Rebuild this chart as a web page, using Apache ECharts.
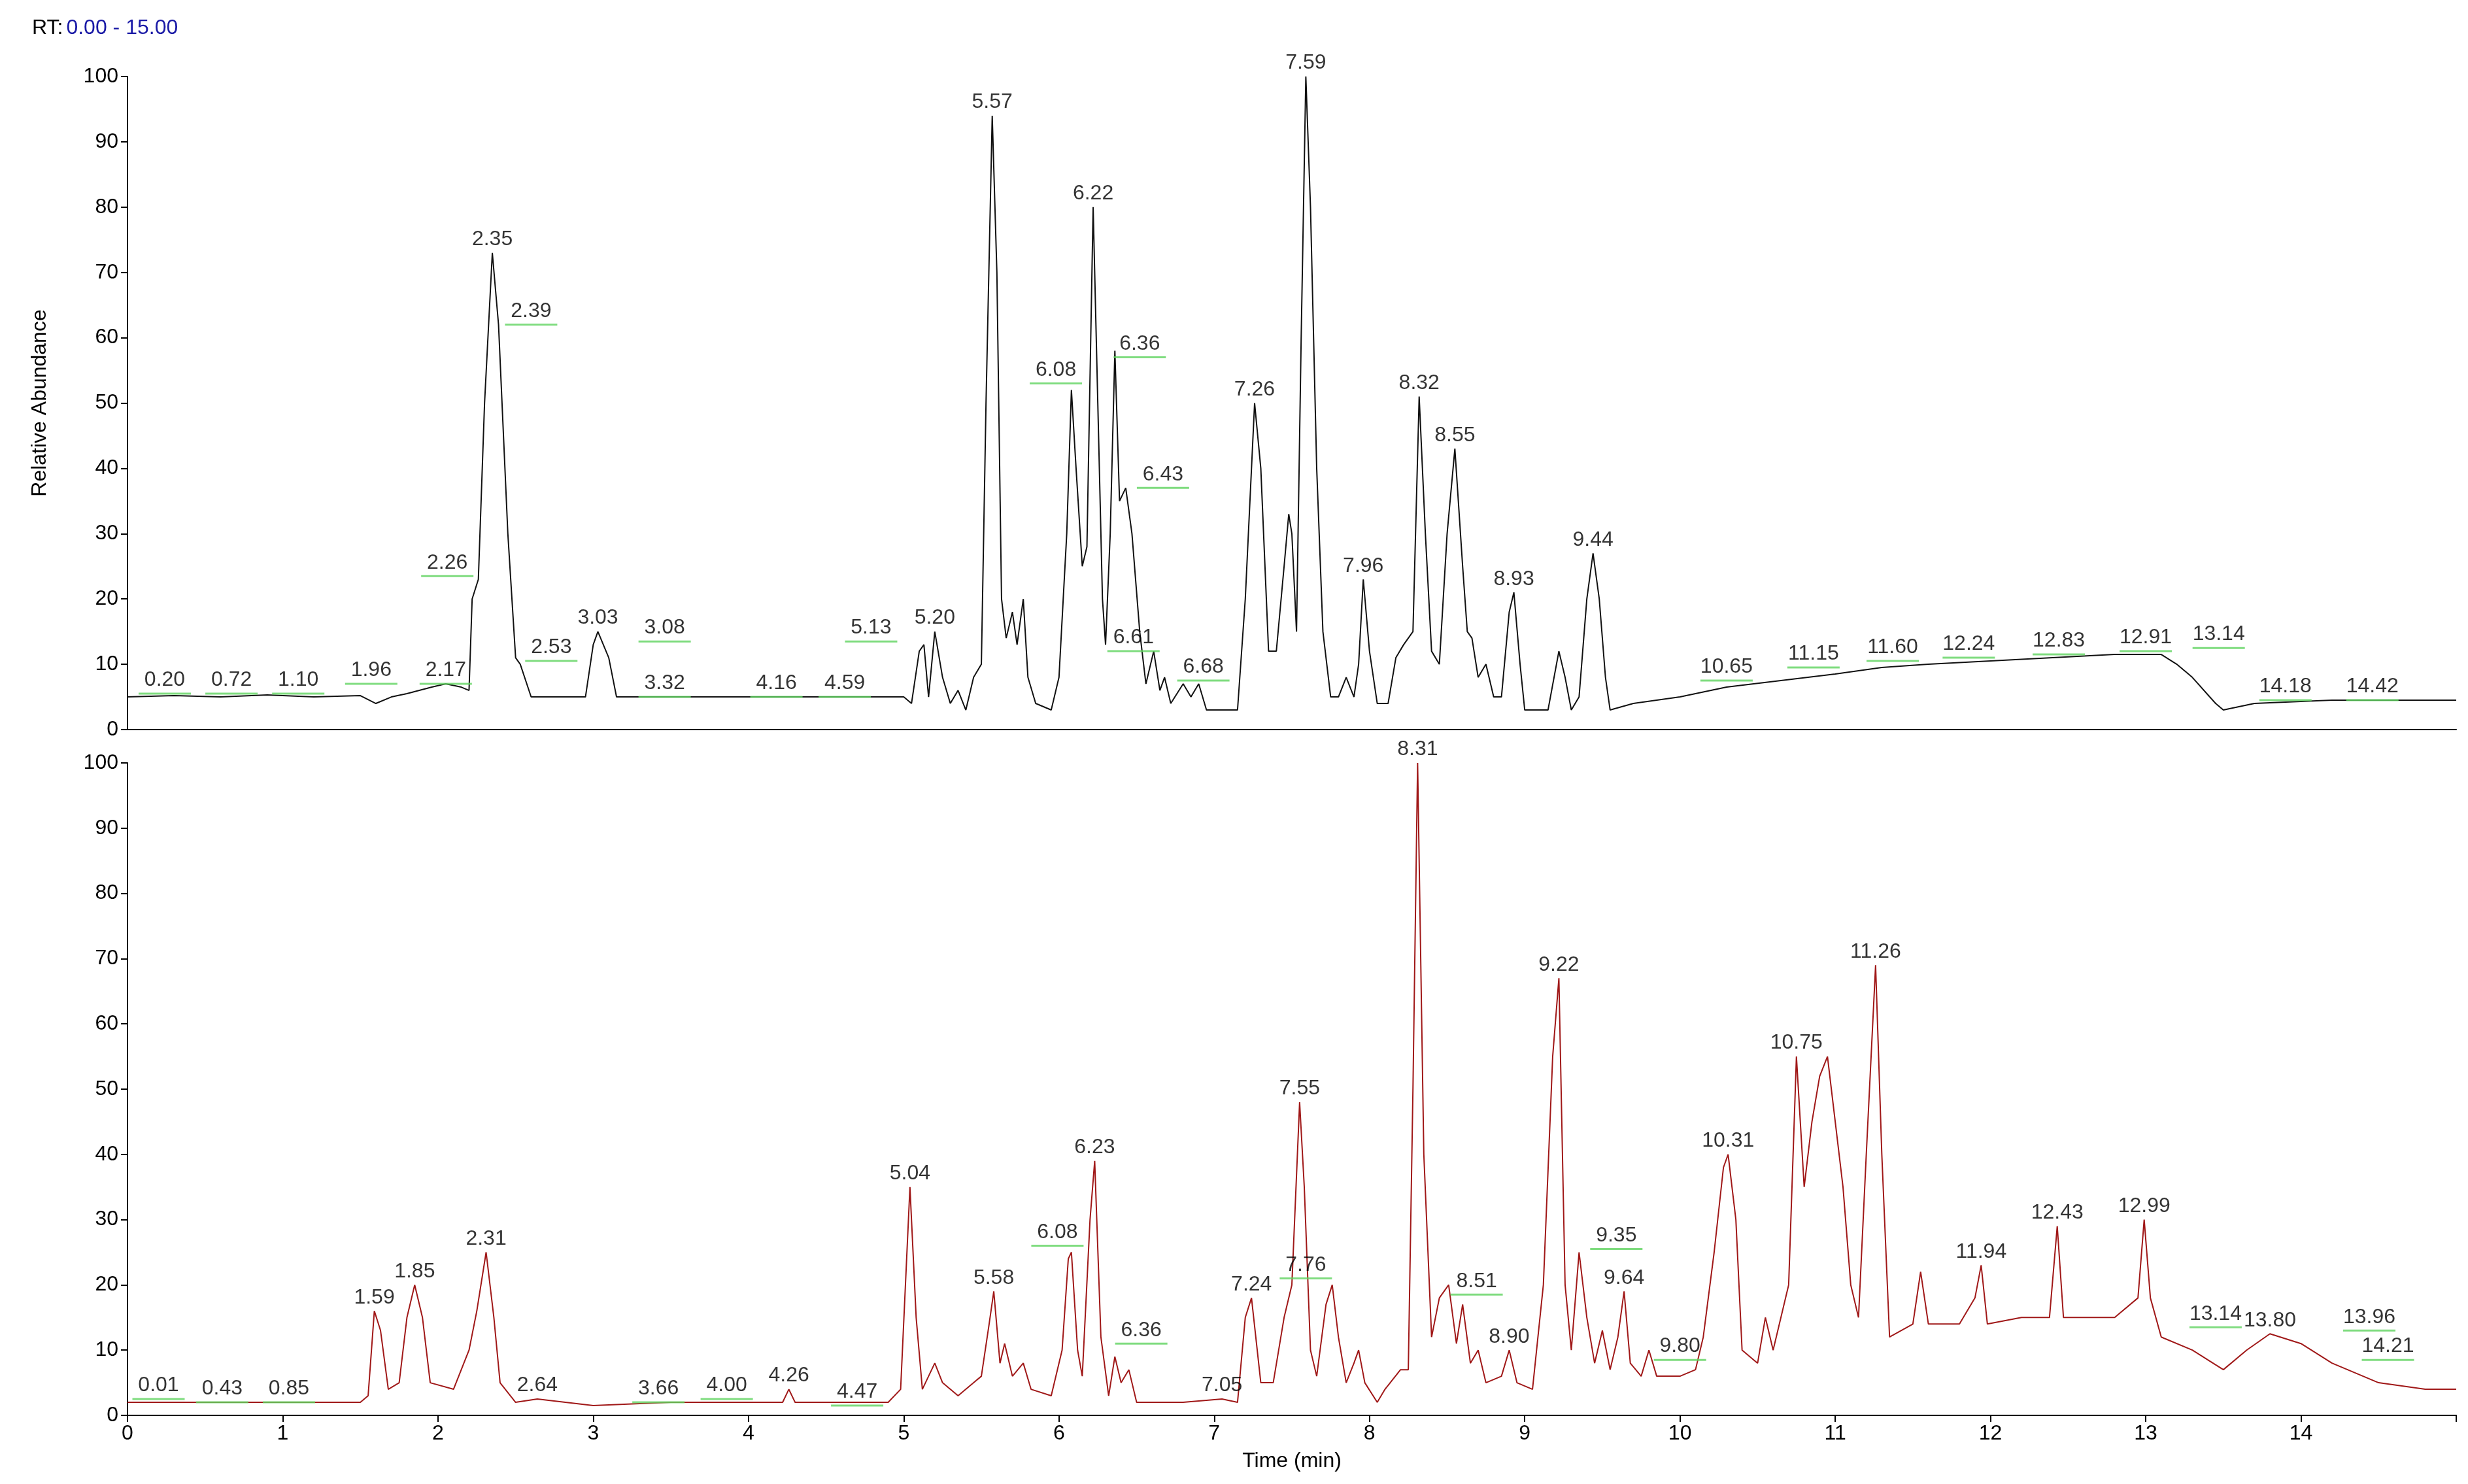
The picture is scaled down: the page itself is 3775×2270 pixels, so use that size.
<!DOCTYPE html>
<html><head><meta charset="utf-8">
<script src="https://cdn.jsdelivr.net/npm/echarts@6/dist/echarts.min.js"></script>
<style>html,body{margin:0;background:#fff}#c{width:3775px;height:2270px}</style>
</head><body><div id="c"></div>
<script>
const topTrace=[[0,5],[0.3,5.2],[0.6,5],[0.9,5.3],[1.2,5],[1.5,5.2],[1.6,4],[1.7,5],[1.8,5.5],[1.96,6.5],[2.05,7],[2.15,6.5],[2.2,6],[2.22,20],[2.26,23],[2.3,50],[2.35,73],[2.39,62],[2.45,30],[2.5,11],[2.53,10],[2.6,5],[2.95,5],[3.0,13],[3.03,15],[3.1,11],[3.15,5],[3.5,5],[4.0,5],[4.5,5],[5.0,5],[5.05,4],[5.1,12],[5.13,13],[5.16,5],[5.2,15],[5.25,8],[5.3,4],[5.35,6],[5.4,3],[5.45,8],[5.5,10],[5.53,50],[5.57,94],[5.6,70],[5.63,20],[5.66,14],[5.7,18],[5.73,13],[5.77,20],[5.8,8],[5.85,4],[5.95,3],[6.0,8],[6.05,30],[6.08,52],[6.11,40],[6.15,25],[6.18,28],[6.22,80],[6.25,50],[6.28,20],[6.3,13],[6.33,30],[6.36,58],[6.39,35],[6.43,37],[6.47,30],[6.52,15],[6.56,7],[6.61,12],[6.65,6],[6.68,8],[6.72,4],[6.8,7],[6.85,5],[6.9,7],[6.95,3],[7.15,3],[7.2,20],[7.26,50],[7.3,40],[7.35,12],[7.4,12],[7.45,25],[7.48,33],[7.5,30],[7.53,15],[7.56,60],[7.59,100],[7.62,80],[7.66,40],[7.7,15],[7.75,5],[7.8,5],[7.85,8],[7.9,5],[7.93,10],[7.96,23],[8.0,12],[8.05,4],[8.12,4],[8.17,11],[8.22,13],[8.28,15],[8.32,51],[8.36,30],[8.4,12],[8.45,10],[8.5,30],[8.55,43],[8.6,25],[8.63,15],[8.66,14],[8.7,8],[8.75,10],[8.8,5],[8.85,5],[8.9,18],[8.93,21],[8.97,10],[9.0,3],[9.15,3],[9.22,12],[9.26,8],[9.3,3],[9.35,5],[9.4,20],[9.44,27],[9.48,20],[9.52,8],[9.55,3],[9.7,4],[10.0,5],[10.3,6.5],[10.65,7.5],[11.0,8.5],[11.3,9.5],[11.6,10],[12.0,10.5],[12.4,11],[12.8,11.5],[13.1,11.5],[13.2,10],[13.3,8],[13.45,4],[13.5,3],[13.7,4],[14.2,4.5],[15,4.5]];
const bottomTrace=[[0,2],[0.5,2],[1.0,2],[1.5,2],[1.55,3],[1.59,16],[1.63,13],[1.68,4],[1.75,5],[1.8,15],[1.85,20],[1.9,15],[1.95,5],[2.1,4],[2.2,10],[2.25,16],[2.31,25],[2.36,15],[2.4,5],[2.5,2],[2.64,2.5],[3.0,1.5],[3.5,2],[4.0,2],[4.22,2],[4.26,4],[4.3,2],[4.9,2],[4.98,4],[5.04,35],[5.08,15],[5.12,4],[5.2,8],[5.25,5],[5.35,3],[5.45,5],[5.5,6],[5.55,14],[5.58,19],[5.62,8],[5.65,11],[5.7,6],[5.77,8],[5.82,4],[5.95,3],[6.02,10],[6.06,24],[6.08,25],[6.12,10],[6.15,6],[6.2,30],[6.23,39],[6.27,12],[6.32,3],[6.36,9],[6.4,5],[6.45,7],[6.5,2],[6.8,2],[7.05,2.5],[7.15,2],[7.2,15],[7.24,18],[7.3,5],[7.38,5],[7.45,15],[7.5,20],[7.55,48],[7.58,35],[7.62,10],[7.66,6],[7.72,17],[7.76,20],[7.8,12],[7.85,5],[7.9,8],[7.93,10],[7.97,5],[8.05,2],[8.1,4],[8.2,7],[8.25,7],[8.28,50],[8.31,100],[8.35,40],[8.4,12],[8.45,18],[8.51,20],[8.56,11],[8.6,17],[8.65,8],[8.7,10],[8.75,5],[8.85,6],[8.9,10],[8.95,5],[9.05,4],[9.12,20],[9.18,55],[9.22,67],[9.26,20],[9.3,10],[9.35,25],[9.4,15],[9.45,8],[9.5,13],[9.55,7],[9.6,12],[9.64,19],[9.68,8],[9.75,6],[9.8,10],[9.85,6],[10.0,6],[10.1,7],[10.15,12],[10.22,25],[10.28,38],[10.31,40],[10.36,30],[10.4,10],[10.5,8],[10.55,15],[10.6,10],[10.7,20],[10.75,55],[10.8,35],[10.85,45],[10.9,52],[10.95,55],[11.0,45],[11.05,35],[11.1,20],[11.15,15],[11.2,40],[11.26,69],[11.3,40],[11.35,12],[11.5,14],[11.55,22],[11.6,14],[11.8,14],[11.9,18],[11.94,23],[11.98,14],[12.2,15],[12.38,15],[12.43,29],[12.47,15],[12.8,15],[12.95,18],[12.99,30],[13.03,18],[13.1,12],[13.3,10],[13.5,7],[13.65,10],[13.8,12.5],[14.0,11],[14.2,8],[14.5,5],[14.8,4],[15,4]];
const topPeakLabels=[[2.35,73,'2.35'],[3.03,15,'3.03'],[5.20,15,'5.20'],[5.57,94,'5.57'],[6.22,80,'6.22'],[7.26,50,'7.26'],[7.59,100,'7.59'],[7.96,23,'7.96'],[8.32,51,'8.32'],[8.55,43,'8.55'],[8.93,21,'8.93'],[9.44,27,'9.44']];
const topGreenLabels=[[0.24,5.5,'0.20'],[0.67,5.5,'0.72'],[1.10,5.5,'1.10'],[1.57,7,'1.96'],[2.05,7,'2.17'],[2.06,23.5,'2.26'],[2.6,62,'2.39'],[2.73,10.5,'2.53'],[3.46,13.5,'3.08'],[3.46,5,'3.32'],[4.18,5,'4.16'],[4.62,5,'4.59'],[4.79,13.5,'5.13'],[5.98,53,'6.08'],[6.52,57,'6.36'],[6.67,37,'6.43'],[6.48,12,'6.61'],[6.93,7.5,'6.68'],[10.3,7.5,'10.65'],[10.86,9.5,'11.15'],[11.37,10.5,'11.60'],[11.86,11,'12.24'],[12.44,11.5,'12.83'],[13.0,12,'12.91'],[13.47,12.5,'13.14'],[13.9,4.5,'14.18'],[14.46,4.5,'14.42']];
const bottomPeakLabels=[[1.59,16,'1.59'],[1.85,20,'1.85'],[2.31,25,'2.31'],[2.64,2.5,'2.64'],[4.26,4,'4.26'],[5.04,35,'5.04'],[5.58,19,'5.58'],[6.23,39,'6.23'],[7.05,2.5,'7.05'],[7.24,18,'7.24'],[7.55,48,'7.55'],[8.31,100,'8.31'],[8.90,10,'8.90'],[9.22,67,'9.22'],[9.64,19,'9.64'],[10.31,40,'10.31'],[10.75,55,'10.75'],[11.26,69,'11.26'],[11.94,23,'11.94'],[12.43,29,'12.43'],[12.99,30,'12.99'],[13.80,12.5,'13.80']];
const bottomGreenLabels=[[0.2,2.5,'0.01'],[0.61,2,'0.43'],[1.04,2,'0.85'],[3.42,2,'3.66'],[3.86,2.5,'4.00'],[4.7,1.5,'4.47'],[5.99,26,'6.08'],[6.53,11,'6.36'],[7.59,21,'7.76'],[8.69,18.5,'8.51'],[9.59,25.5,'9.35'],[10.0,8.5,'9.80'],[13.45,13.5,'13.14'],[14.44,13,'13.96'],[14.56,8.5,'14.21']];
const yTicks=[0,10,20,30,40,50,60,70,80,90,100];
const xTicks=[0,1,2,3,4,5,6,7,8,9,10,11,12,13,14];

const FONT='Liberation Sans';
const labFs=32;
function yAxis(i,name){return {gridIndex:i,min:0,max:100,interval:10,
  axisLine:{show:true,lineStyle:{color:'#000',width:2}},axisTick:{show:true,length:10,lineStyle:{color:'#000',width:2}},
  axisLabel:{fontFamily:FONT,fontSize:labFs,color:'#000',margin:14},splitLine:{show:false},
  name:name,nameLocation:'middle',nameRotate:90,nameGap:118,nameTextStyle:{fontFamily:FONT,fontSize:32,color:'#000'}};}
function xAxis(i,show){return {gridIndex:i,type:'value',min:0,max:15,interval:1,
  axisLine:{show:true,onZero:false,lineStyle:{color:'#000',width:2}},axisTick:{show:show,length:10,lineStyle:{color:'#000',width:2}},
  axisLabel:{show:show,fontFamily:FONT,fontSize:labFs,color:'#000',margin:12,formatter:v=>xTicks.includes(v)?String(v):''},
  splitLine:{show:false},name:show?'Time (min)':'',nameLocation:'middle',nameGap:54,nameTextStyle:{fontFamily:FONT,fontSize:32,color:'#000'}};}
function line(i,data,color){return {type:'line',xAxisIndex:i,yAxisIndex:i,data:data,showSymbol:false,symbol:'none',lineStyle:{color:color,width:2},animation:false,z:2};}
function peaks(i,data){return {type:'scatter',xAxisIndex:i,yAxisIndex:i,data:data,symbolSize:1,itemStyle:{color:'transparent'},
  label:{show:true,position:'top',distance:4,formatter:p=>p.data[2],fontFamily:FONT,fontSize:labFs,color:'#000'},animation:false,z:5};}
function greens(i,data){return {type:'scatter',xAxisIndex:i,yAxisIndex:i,data:data,symbol:'rect',symbolSize:[80,3],itemStyle:{color:'#5fd35f'},
  label:{show:true,position:'top',distance:3,formatter:p=>p.data[2],fontFamily:FONT,fontSize:labFs,color:'#000'},animation:false,z:4};}

const chart=echarts.init(document.getElementById('c'));
chart.setOption({
  backgroundColor:'#fff',animation:false,
  title:{left:44,top:22,text:'{a|RT:} {b|0.00 - 15.00}',textStyle:{fontWeight:'normal',rich:{a:{fontFamily:FONT,fontSize:32,color:'#000',fontWeight:'normal'},b:{fontFamily:FONT,fontSize:32,color:'#1a1aa6',fontWeight:'normal'}}}},
  grid:[{left:195,right:18,top:117,height:999},{left:195,right:18,top:1167,height:998}],
  xAxis:[xAxis(0,false),xAxis(1,true)],
  yAxis:[yAxis(0,'Relative Abundance'),yAxis(1,'')],
  series:[line(0,topTrace,'#111'),line(1,bottomTrace,'#a01818'),peaks(0,topPeakLabels),greens(0,topGreenLabels),peaks(1,bottomPeakLabels),greens(1,bottomGreenLabels)]
});
</script></body></html>
